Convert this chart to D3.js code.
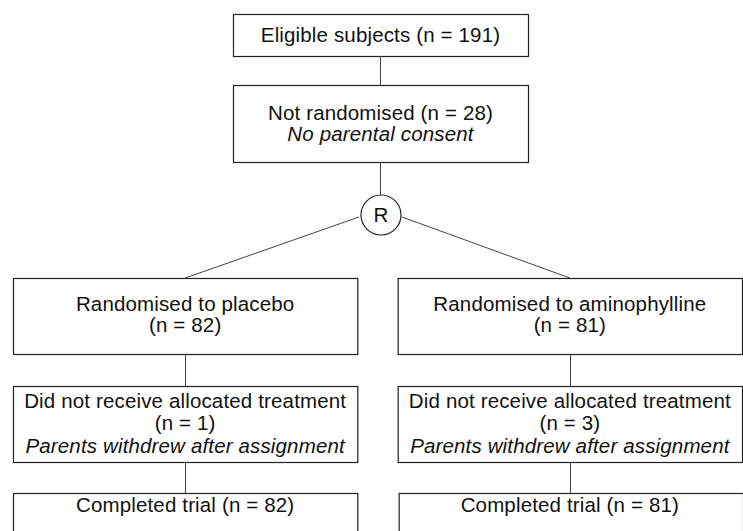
<!DOCTYPE html>
<html>
<head>
<meta charset="utf-8">
<script src="https://cdn.jsdelivr.net/npm/d3@7"></script>
<style>
  body { margin: 0; background: #fff; }
  text { font-family: "Liberation Sans", Arial, sans-serif; font-size: 20.5px; letter-spacing: 0.15px; fill: #111; }
  .it { font-style: italic; }
</style>
</head>
<body>
<div id="chart"></div>
<script>
// flow counts
var eligible = 191;
var notRandomised = 28;
var notRandomisedReason = "No parental consent";
var arms = ["placebo", "aminophylline"];
var armRandomised = [82, 81];
var armNotReceived = [1, 3];
var notReceivedReason = "Parents withdrew after assignment";
var armCompleted = [82, 81];

var width = 743, height = 531;

var svg = d3.select('#chart')
	.append('svg')
		.attr('width', width)
		.attr('height', height);

var x = d3.scaleBand()
	.domain(arms)
	.range([13, 742])
	.paddingInner(0.105);

var lineCol = '#444';
var boxCol = '#222';

function box(x0, y0, w, h) {
	svg.append('rect')
		.attr('x', x0 + 0.5)
		.attr('y', y0 + 0.5)
		.attr('width', w)
		.attr('height', h)
		.attr('fill', 'none')
		.attr('stroke', boxCol)
		.attr('stroke-width', 1.2);
}

function label(cx, y, txt, italic) {
	svg.append('text')
		.attr('x', cx)
		.attr('y', y)
		.attr('text-anchor', 'middle')
		.attr('class', italic ? 'it' : null)
		.text(txt);
}

function vline(cx, y1, y2) {
	svg.append('line')
		.attr('x1', cx + 0.5).attr('x2', cx + 0.5)
		.attr('y1', y1).attr('y2', y2)
		.attr('stroke', lineCol)
		.attr('stroke-width', 1);
}

// top part
var midX = 380;
box(233, 14, 295, 42);
label(midX + 0.5, 42, "Eligible subjects (n = " + eligible + ")");
vline(midX, 56, 85);
box(233, 85, 295, 77);
label(midX + 0.5, 120, "Not randomised (n = " + notRandomised + ")");
label(midX + 0.5, 141, notRandomisedReason, true);
vline(midX, 162, 195);

// randomisation node
var r = { x: 381, y: 215, rad: 20 };
svg.append('circle')
	.attr('cx', r.x)
	.attr('cy', r.y)
	.attr('r', r.rad)
	.attr('fill', '#fff')
	.attr('stroke', boxCol)
	.attr('stroke-width', 1.2);
label(r.x, r.y + 7, "R");

// arms
arms.forEach(function(a, i) {
	var x0 = x(a), bw = x.bandwidth(), cx = x0 + bw / 2;
	var sx = i === 0 ? r.x - r.rad - 2 : r.x + r.rad + 1;
	svg.append('line')
		.attr('x1', sx).attr('y1', 217)
		.attr('x2', cx).attr('y2', 278)
		.attr('stroke', lineCol)
		.attr('stroke-width', 1);

	box(x0, 278, bw, 76);
	label(cx, 311, "Randomised to " + a);
	label(cx, 332, "(n = " + armRandomised[i] + ")");
	vline(Math.round(cx), 354, 386);

	box(x0, 386, bw, 76);
	label(cx, 408, "Did not receive allocated treatment");
	label(cx, 430, "(n = " + armNotReceived[i] + ")");
	label(cx, 453, notReceivedReason, true);
	vline(Math.round(cx), 462, 493);

	box(x0 + (i === 0 ? 0 : 1), 493, bw, 60);
	label(cx, 512, "Completed trial (n = " + armCompleted[i] + ")");
});
</script>
</body>
</html>
